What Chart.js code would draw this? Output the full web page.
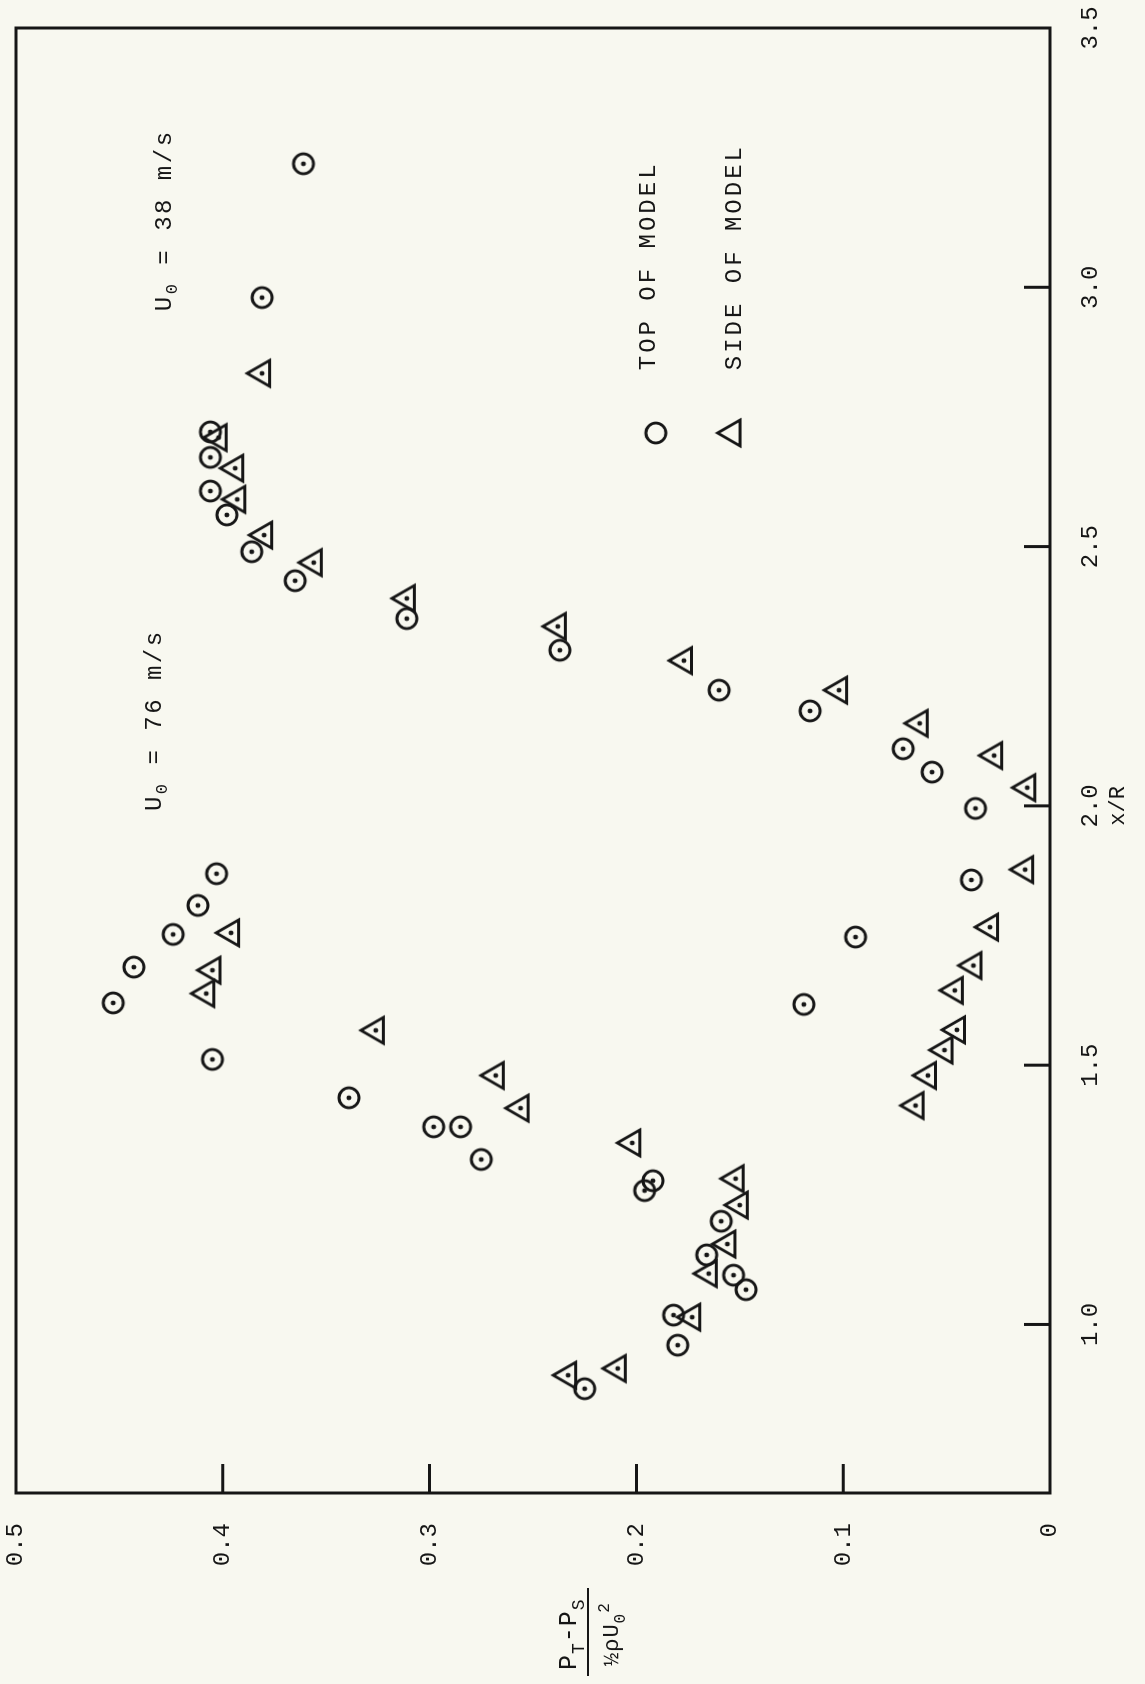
<!DOCTYPE html>
<html>
<head>
<meta charset="utf-8">
<script src="https://cdn.jsdelivr.net/npm/chart.js@4.4.1/dist/chart.umd.min.js"></script>
<style>
  html, body { margin: 0; padding: 0; background: #f8f8f0; overflow: hidden; }
  /* the figure is printed sideways: draw it upright, then turn it a quarter left */
  #wrap {
    position: absolute; left: 0; top: 0;
    width: 1684px; height: 1145px;
    transform-origin: 0 0;
    transform: translate(0, 1684px) rotate(-90deg);
  }
</style>
</head>
<body>
<div id="wrap"><canvas id="chart" width="1684" height="1145"></canvas></div>
<script>
// axis ticks
const xTickValues = [1.0, 1.5, 2.0, 2.5, 3.0, 3.5];
const yTickValues = [0, 0.1, 0.2, 0.3, 0.4, 0.5];
const xInnerTicks = [1.0, 1.5, 2.0, 2.5, 3.0];
const yInnerTicks = [0.1, 0.2, 0.3, 0.4];

// TOP OF MODEL (circles)
const topX = [3.238, 2.980, 2.721, 2.672, 2.607, 2.561, 2.490, 2.434, 2.361, 2.300,
              2.223, 2.183, 2.110, 2.065, 1.995, 1.857, 1.747, 1.617,
              1.869, 1.808, 1.752, 1.689, 1.620, 1.511, 1.437, 1.381, 1.381, 1.318,
              1.277, 1.258, 1.199, 1.134, 1.095, 1.067, 1.018, 0.960, 0.876];
const topY = [0.361, 0.381, 0.406, 0.406, 0.406, 0.398, 0.386, 0.365, 0.311, 0.237,
              0.160, 0.116, 0.071, 0.057, 0.036, 0.038, 0.094, 0.119,
              0.403, 0.412, 0.424, 0.443, 0.453, 0.405, 0.339, 0.298, 0.285, 0.275,
              0.192, 0.196, 0.159, 0.166, 0.153, 0.147, 0.182, 0.180, 0.225];

// SIDE OF MODEL (triangles)
const sideX = [2.834, 2.710, 2.651, 2.591, 2.522, 2.469, 2.400, 2.346, 2.280, 2.223,
               2.159, 2.097, 2.035, 1.877, 1.766, 1.692, 1.644, 1.568, 1.529, 1.480, 1.422,
               1.755, 1.683, 1.638, 1.567, 1.480, 1.417, 1.350, 1.281, 1.230, 1.155,
               1.098, 1.014, 0.915, 0.902];
const sideY = [0.381, 0.402, 0.394, 0.393, 0.380, 0.356, 0.311, 0.238, 0.177, 0.102,
               0.063, 0.027, 0.011, 0.012, 0.029, 0.037, 0.046, 0.045, 0.051, 0.059, 0.065,
               0.396, 0.405, 0.408, 0.326, 0.268, 0.256, 0.202, 0.152, 0.150, 0.156,
               0.165, 0.173, 0.209, 0.233];

const ink = '#161616';
const mono = '"Liberation Mono", "DejaVu Sans Mono", monospace';

// marker images: open circle / triangle, with or without centre dot
function makeMarker(kind, withDot) {
    const s = 40;
    const c = document.createElement('canvas');
    c.width = s; c.height = s;
    const g = c.getContext('2d');
    g.strokeStyle = ink;
    g.fillStyle = ink;
    g.lineWidth = 2.8;
    g.beginPath();
    if (kind === 'circle') {
        g.arc(s / 2, s / 2, 10, 0, Math.PI * 2);
    } else {
        const r = 15;
        for (let i = 0; i < 3; i++) {
            const a = -Math.PI / 2 + i * 2 * Math.PI / 3;
            const px = s / 2 + r * Math.cos(a), py = s / 2 + r * Math.sin(a);
            if (i === 0) g.moveTo(px, py); else g.lineTo(px, py);
        }
        g.closePath();
    }
    g.stroke();
    if (withDot) {
        g.beginPath();
        g.arc(s / 2, s / 2, 2.4, 0, Math.PI * 2);
        g.fill();
    }
    return c;
}

const circleDot = makeMarker('circle', true);
const triDot = makeMarker('triangle', true);
const circleOpen = makeMarker('circle', false);
const triOpen = makeMarker('triangle', false);

function toPoints(xs, ys) {
    return xs.map((x, i) => ({ x: x, y: ys[i] }));
}

// text with subscripts/superscripts: parts = [[text, 'n'|'sub'|'sup'], ...]
function drawRich(ctx, parts, x, y, size, spacing) {
    let cx = x;
    parts.forEach(([txt, kind]) => {
        const fs = kind === 'n' ? size : Math.round(size * 0.72);
        const dy = kind === 'sub' ? size * 0.32 : (kind === 'sup' ? -size * 0.42 : 0);
        ctx.font = fs + 'px ' + mono;
        ctx.letterSpacing = spacing + 'px';
        ctx.fillText(txt, cx, y + dy);
        cx += ctx.measureText(txt).width;
    });
    ctx.letterSpacing = '0px';
    return cx - x;
}

const figurePlugin = {
    id: 'figure',
    afterDraw(chart) {
        const ctx = chart.ctx;
        const area = chart.chartArea;
        const xs = chart.scales.x, ys = chart.scales.y;
        ctx.save();
        ctx.strokeStyle = ink;
        ctx.fillStyle = ink;

        // frame
        ctx.lineWidth = 3;
        ctx.strokeRect(area.left, area.top, area.right - area.left, area.bottom - area.top);

        // inward ticks
        ctx.lineWidth = 3;
        ctx.beginPath();
        xInnerTicks.forEach(v => {
            const p = xs.getPixelForValue(v);
            ctx.moveTo(p, area.bottom);
            ctx.lineTo(p, area.bottom - 26);
        });
        yInnerTicks.forEach(v => {
            const p = ys.getPixelForValue(v);
            ctx.moveTo(area.left, p);
            ctx.lineTo(area.left + 29, p);
        });
        ctx.stroke();

        // x axis title
        ctx.textBaseline = 'middle';
        ctx.textAlign = 'center';
        ctx.font = '22px ' + mono;
        ctx.fillText('x/R', xs.getPixelForValue(2.0), area.bottom + 68);

        // y axis title as a fraction
        ctx.textAlign = 'left';
        ctx.textBaseline = 'alphabetic';
        const lineV = 588;
        ctx.lineWidth = 2;
        ctx.beginPath();
        ctx.moveTo(8, lineV);
        ctx.lineTo(96, lineV);
        ctx.stroke();
        drawRich(ctx, [['P', 'n'], ['T', 'sub'], ['-P', 'n'], ['S', 'sub']], 14, lineV - 12, 25, 1);
        drawRich(ctx, [['\u00bd\u03c1U', 'n'], ['0', 'sub'], ['2', 'sup']], 18, lineV + 30, 22, 1);

        // speed notes
        ctx.textBaseline = 'middle';
        drawRich(ctx, [['U', 'n'], ['0', 'sub'], [' = 76 m/s', 'n']],
                 xs.getPixelForValue(1.99), ys.getPixelForValue(0.433), 24, 2.5);
        drawRich(ctx, [['U', 'n'], ['0', 'sub'], [' = 38 m/s', 'n']],
                 xs.getPixelForValue(2.954), ys.getPixelForValue(0.428), 24, 2.5);

        // legend
        const lx = xs.getPixelForValue(2.719);
        const c1 = ys.getPixelForValue(0.1906), c2 = ys.getPixelForValue(0.1535);
        ctx.drawImage(circleOpen, lx - circleOpen.width / 2, c1 - circleOpen.height / 2);
        ctx.drawImage(triOpen, lx - triOpen.width / 2, c2 - triOpen.height / 2);
        ctx.font = '24px ' + mono;
        ctx.letterSpacing = '3px';
        ctx.fillText('TOP OF MODEL', xs.getPixelForValue(2.840), ys.getPixelForValue(0.194));
        ctx.fillText('SIDE OF MODEL', xs.getPixelForValue(2.840), ys.getPixelForValue(0.1525));
        ctx.letterSpacing = '0px';
        ctx.restore();
    }
};

new Chart(document.getElementById('chart'), {
    type: 'scatter',
    data: {
        datasets: [
            { label: 'TOP OF MODEL', data: toPoints(topX, topY), pointStyle: circleDot, pointRadius: 10 },
            { label: 'SIDE OF MODEL', data: toPoints(sideX, sideY), pointStyle: triDot, pointRadius: 10 }
        ]
    },
    options: {
        responsive: false,
        animation: false,
        events: [],
        layout: { autoPadding: false, padding: { top: 16, right: 28, left: 0, bottom: 0 } },
        plugins: { legend: { display: false }, tooltip: { enabled: false } },
        scales: {
            x: {
                type: 'linear',
                min: 0.675,
                max: 3.5,
                afterBuildTicks: s => { s.ticks = xTickValues.map(v => ({ value: v })); },
                // fixed band for the axis, and no extra edge padding from the labels
                afterFit: s => { s.height = 95; s.paddingLeft = 0; s.paddingRight = 0; },
                grid: { display: false, drawTicks: false },
                border: { display: false },
                ticks: {
                    color: ink,
                    font: { family: mono, size: 24 },
                    padding: 26,
                    maxRotation: 0,
                    autoSkip: false,
                    callback: v => v.toFixed(1)
                }
            },
            y: {
                type: 'linear',
                min: 0,
                max: 0.5,
                afterBuildTicks: s => { s.ticks = yTickValues.map(v => ({ value: v })); },
                afterFit: s => { s.width = 191; s.paddingTop = 0; s.paddingBottom = 0; },
                grid: { display: false, drawTicks: false },
                border: { display: false },
                ticks: {
                    color: ink,
                    font: { family: mono, size: 24 },
                    padding: 30,
                    autoSkip: false,
                    callback: v => (v === 0 ? '0' : v.toFixed(1))
                }
            }
        }
    },
    plugins: [figurePlugin]
});
</script>
</body>
</html>
